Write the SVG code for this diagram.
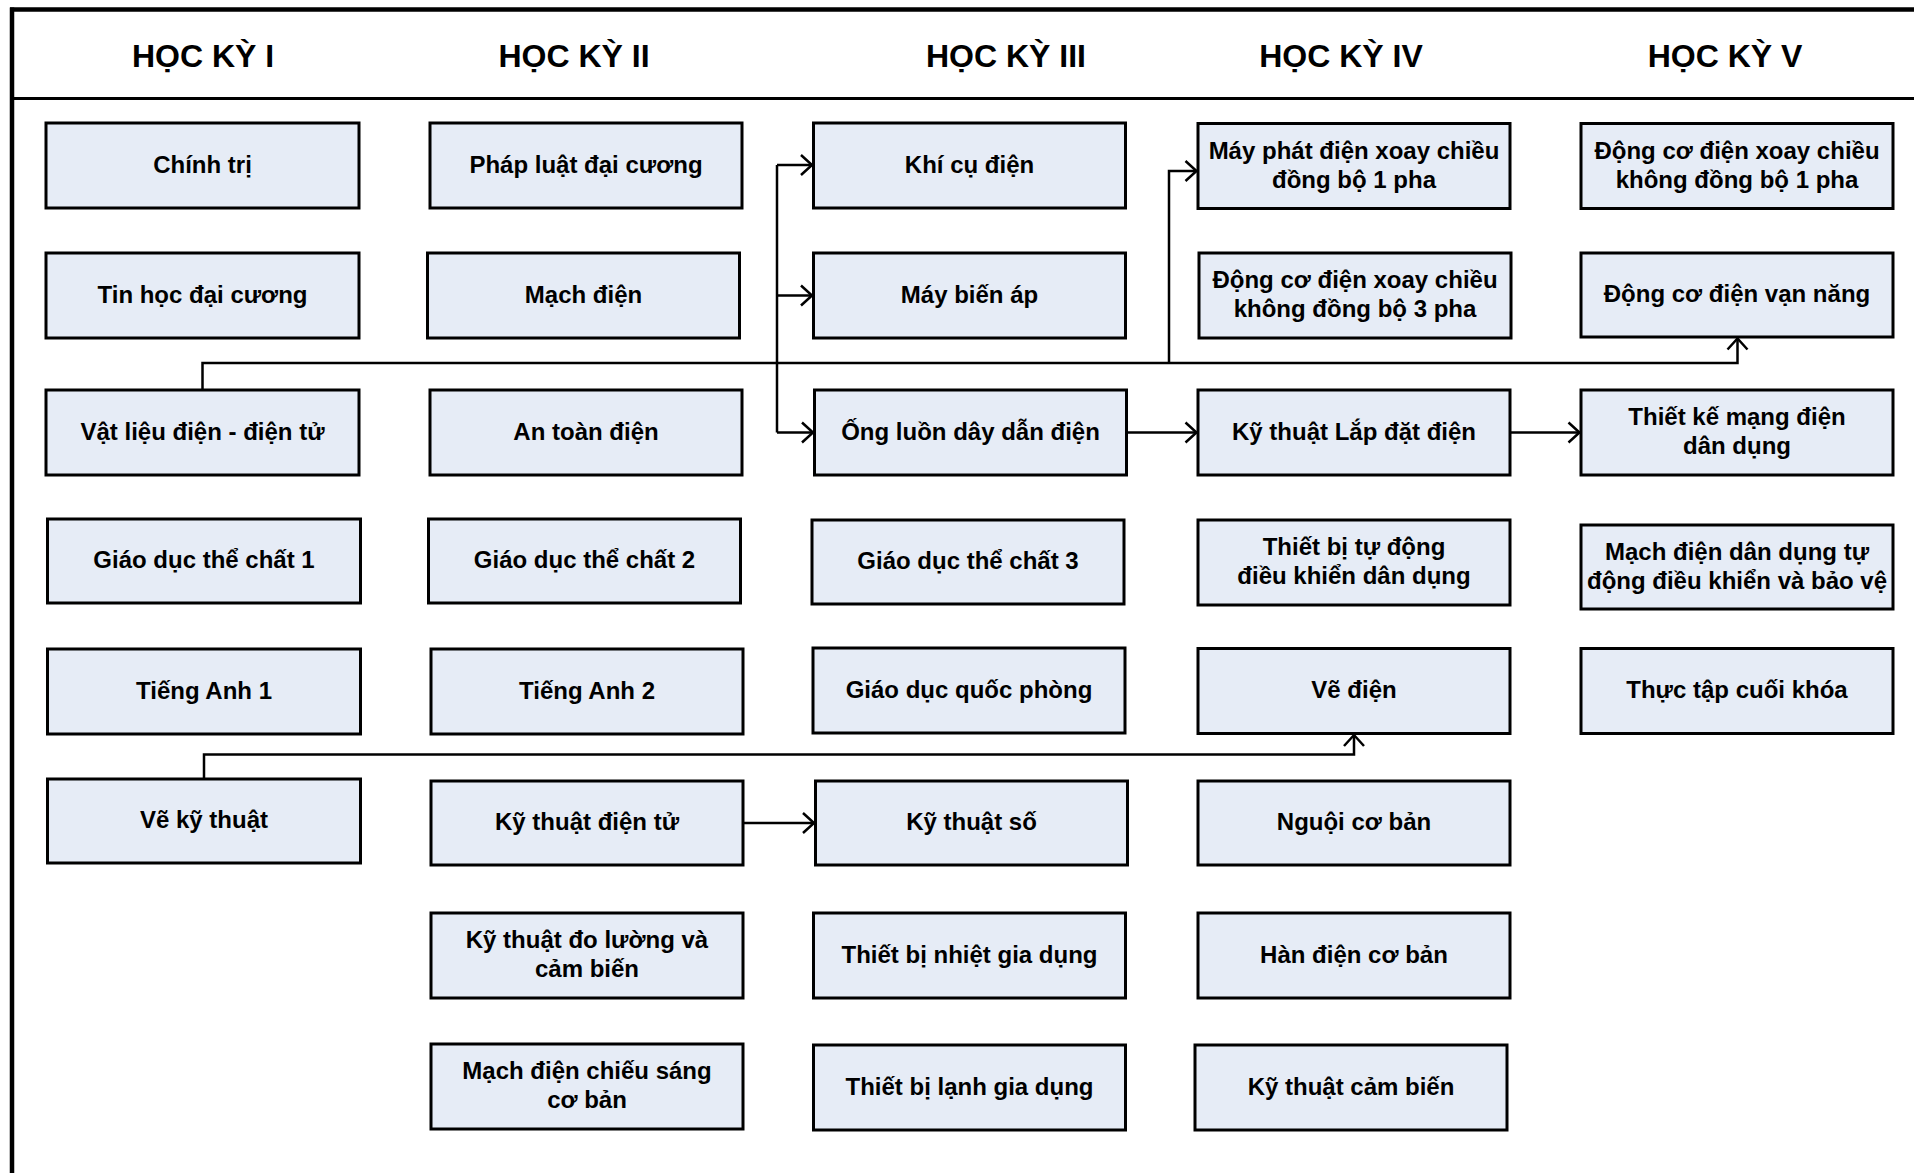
<svg xmlns="http://www.w3.org/2000/svg" width="1914" height="1173" viewBox="0 0 1914 1173">
<style>
.box{fill:#E6ECF6;stroke:#000;stroke-width:3}
.t{font-family:"Liberation Sans",Arial,sans-serif;font-weight:bold;font-size:24px;fill:#000;text-anchor:middle}
.h{font-family:"Liberation Sans",Arial,sans-serif;font-weight:bold;font-size:32px;fill:#000;text-anchor:middle}
.c{fill:none;stroke:#000;stroke-width:2.5}
</style>
<defs>
<marker id="arr" viewBox="-14 -12 16 24" refX="0" refY="0" markerWidth="16" markerHeight="24" markerUnits="userSpaceOnUse" orient="auto">
<path d="M-11,-10 L0,0 L-11,10" fill="none" stroke="#000" stroke-width="2.5"/>
</marker>
</defs>
<rect width="1914" height="1173" fill="#fff"/>
<g id="frame">
<line x1="10" y1="9.5" x2="1914" y2="9.5" stroke="#000" stroke-width="4.5"/>
<line x1="12" y1="7.5" x2="12" y2="1173" stroke="#000" stroke-width="4.5"/>
<line x1="10" y1="98.5" x2="1914" y2="98.5" stroke="#000" stroke-width="3"/>
</g>
<g id="headers">
<text class="h" x="203" y="67">HỌC KỲ I</text>
<text class="h" x="574" y="67">HỌC KỲ II</text>
<text class="h" x="1006" y="67">HỌC KỲ III</text>
<text class="h" x="1341" y="67">HỌC KỲ IV</text>
<text class="h" x="1725" y="67">HỌC KỲ V</text>
</g>
<g id="connectors">
<path class="c" d="M202.5,390 V363 H1737.5 V338.5" marker-end="url(#arr)"/>
<path class="c" d="M1169,363 V171 H1196.5" marker-end="url(#arr)"/>
<path class="c" d="M777,165 V432.5"/>
<path class="c" d="M777,165 H812" marker-end="url(#arr)"/>
<path class="c" d="M777,295.5 H812" marker-end="url(#arr)"/>
<path class="c" d="M777,432.5 H813" marker-end="url(#arr)"/>
<path class="c" d="M1126.5,432.5 H1196.5" marker-end="url(#arr)"/>
<path class="c" d="M1510,432.5 H1579.5" marker-end="url(#arr)"/>
<path class="c" d="M743,823 H814" marker-end="url(#arr)"/>
<path class="c" d="M204,779 V754.5 H1354 V735" marker-end="url(#arr)"/>
</g>
<g id="n1"><rect class="box" x="46" y="123" width="313" height="85"/><text class="t" x="202.5" y="172.5">Chính trị</text></g>
<g id="n2"><rect class="box" x="46" y="253" width="313" height="85"/><text class="t" x="202.5" y="302.5">Tin học đại cương</text></g>
<g id="n3"><rect class="box" x="46" y="390" width="313" height="85"/><text class="t" x="202.5" y="439.5">Vật liệu điện - điện tử</text></g>
<g id="n4"><rect class="box" x="47.5" y="519" width="313" height="84"/><text class="t" x="204" y="568">Giáo dục thể chất 1</text></g>
<g id="n5"><rect class="box" x="47.5" y="649" width="313" height="85"/><text class="t" x="204" y="698.5">Tiếng Anh 1</text></g>
<g id="n6"><rect class="box" x="47.5" y="779" width="313" height="84"/><text class="t" x="204" y="828">Vẽ kỹ thuật</text></g>

<g id="n7"><rect class="box" x="430" y="123" width="312" height="85"/><text class="t" x="586" y="172.5">Pháp luật đại cương</text></g>
<g id="n8"><rect class="box" x="427.5" y="253" width="312" height="85"/><text class="t" x="583.5" y="302.5">Mạch điện</text></g>
<g id="n9"><rect class="box" x="430" y="390" width="312" height="85"/><text class="t" x="586" y="439.5">An toàn điện</text></g>
<g id="n10"><rect class="box" x="428.5" y="519" width="312" height="84"/><text class="t" x="584.5" y="568">Giáo dục thể chất 2</text></g>
<g id="n11"><rect class="box" x="431" y="649" width="312" height="85"/><text class="t" x="587" y="698.5">Tiếng Anh 2</text></g>
<g id="n12"><rect class="box" x="431" y="781" width="312" height="84"/><text class="t" x="587" y="830">Kỹ thuật điện tử</text></g>
<g id="n13"><rect class="box" x="431" y="913" width="312" height="85"/><text class="t" x="587" y="948">Kỹ thuật đo lường và</text><text class="t" x="587" y="977">cảm biến</text></g>
<g id="n14"><rect class="box" x="431" y="1044" width="312" height="85"/><text class="t" x="587" y="1079">Mạch điện chiếu sáng</text><text class="t" x="587" y="1108">cơ bản</text></g>

<g id="n15"><rect class="box" x="813.5" y="123" width="312" height="85"/><text class="t" x="969.5" y="172.5">Khí cụ điện</text></g>
<g id="n16"><rect class="box" x="813.5" y="253" width="312" height="85"/><text class="t" x="969.5" y="302.5">Máy biến áp</text></g>
<g id="n17"><rect class="box" x="814.5" y="390" width="312" height="85"/><text class="t" x="970.5" y="439.5">Ống luồn dây dẫn điện</text></g>
<g id="n18"><rect class="box" x="812" y="520" width="312" height="84"/><text class="t" x="968" y="569">Giáo dục thể chất 3</text></g>
<g id="n19"><rect class="box" x="813" y="648" width="312" height="85"/><text class="t" x="969" y="697.5">Giáo dục quốc phòng</text></g>
<g id="n20"><rect class="box" x="815.5" y="781" width="312" height="84"/><text class="t" x="971.5" y="830">Kỹ thuật số</text></g>
<g id="n21"><rect class="box" x="813.5" y="913" width="312" height="85"/><text class="t" x="969.5" y="962.5">Thiết bị nhiệt gia dụng</text></g>
<g id="n22"><rect class="box" x="813.5" y="1045" width="312" height="85"/><text class="t" x="969.5" y="1094.5">Thiết bị lạnh gia dụng</text></g>

<g id="n23"><rect class="box" x="1198" y="123.5" width="312" height="85"/><text class="t" x="1354" y="158.5">Máy phát điện xoay chiều</text><text class="t" x="1354" y="187.5">đồng bộ 1 pha</text></g>
<g id="n24"><rect class="box" x="1199" y="253" width="312" height="85"/><text class="t" x="1355" y="288">Động cơ điện xoay chiều</text><text class="t" x="1355" y="317">không đồng bộ 3 pha</text></g>
<g id="n25"><rect class="box" x="1198" y="390" width="312" height="85"/><text class="t" x="1354" y="439.5">Kỹ thuật Lắp đặt điện</text></g>
<g id="n26"><rect class="box" x="1198" y="520" width="312" height="85"/><text class="t" x="1354" y="555">Thiết bị tự động</text><text class="t" x="1354" y="584">điều khiển dân dụng</text></g>
<g id="n27"><rect class="box" x="1198" y="648.5" width="312" height="85"/><text class="t" x="1354" y="698">Vẽ điện</text></g>
<g id="n28"><rect class="box" x="1198" y="781" width="312" height="84"/><text class="t" x="1354" y="830">Nguội cơ bản</text></g>
<g id="n29"><rect class="box" x="1198" y="913" width="312" height="85"/><text class="t" x="1354" y="962.5">Hàn điện cơ bản</text></g>
<g id="n30"><rect class="box" x="1195" y="1045" width="312" height="85"/><text class="t" x="1351" y="1094.5">Kỹ thuật cảm biến</text></g>

<g id="n31"><rect class="box" x="1581" y="123.5" width="312" height="85"/><text class="t" x="1737" y="158.5">Động cơ điện xoay chiều</text><text class="t" x="1737" y="187.5">không đồng bộ 1 pha</text></g>
<g id="n32"><rect class="box" x="1581" y="253" width="312" height="84"/><text class="t" x="1737" y="302">Động cơ điện vạn năng</text></g>
<g id="n33"><rect class="box" x="1581" y="390" width="312" height="85"/><text class="t" x="1737" y="425">Thiết kế mạng điện</text><text class="t" x="1737" y="454">dân dụng</text></g>
<g id="n34"><rect class="box" x="1581" y="525" width="312" height="84"/><text class="t" x="1737" y="559.5">Mạch điện dân dụng tự</text><text class="t" x="1737" y="588.5">động điều khiển và bảo vệ</text></g>
<g id="n35"><rect class="box" x="1581" y="648.5" width="312" height="85"/><text class="t" x="1737" y="698">Thực tập cuối khóa</text></g>
</svg>
